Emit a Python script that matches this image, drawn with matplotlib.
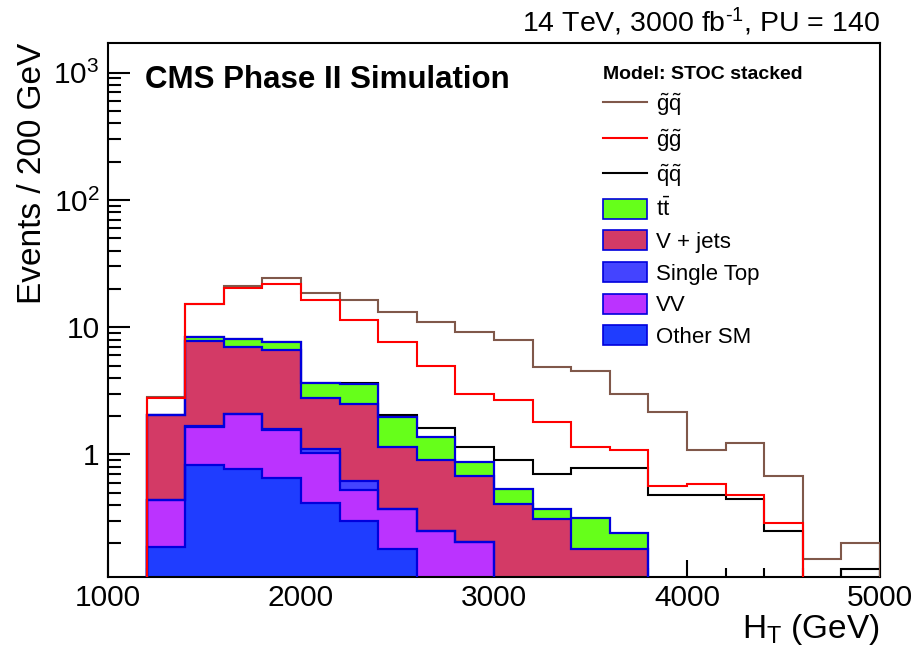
import numpy as np
import matplotlib
matplotlib.use("Agg")
import matplotlib.pyplot as plt
from matplotlib.patches import Patch
from matplotlib.lines import Line2D

plt.rcParams['font.family'] = ['Liberation Sans', 'DejaVu Sans']
plt.rcParams['mathtext.fontset'] = 'custom'
plt.rcParams['mathtext.rm'] = 'Liberation Sans'
plt.rcParams['mathtext.it'] = 'Liberation Sans:italic'
plt.rcParams['mathtext.bf'] = 'Liberation Sans:bold'

# H_T bin edges (GeV)
edges = np.arange(1200, 5001, 200)

# SM backgrounds, per process (stacked bottom -> top)
other_sm = [0.187, 0.834, 0.762, 0.659, 0.416, 0.30, 0.182, 0, 0, 0, 0, 0, 0, 0, 0, 0, 0, 0, 0]
vv = [0.249, 0.816, 1.318, 0.911, 0.614, 0.23, 0.188, 0.25, 0.205, 0, 0, 0, 0, 0, 0, 0, 0, 0, 0]
single_top = [0, 0.01, 0.01, 0.01, 0.08, 0.086, 0.005, 0, 0, 0, 0, 0, 0, 0, 0, 0, 0, 0, 0]
v_jets = [1.604, 6.19, 4.94, 5.05, 1.65, 1.864, 0.78, 0.65, 0.47, 0.406, 0.313, 0.182, 0.18, 0, 0, 0, 0, 0, 0]
ttbar = [0, 0.58, 1.01, 0.99, 0.90, 1.10, 0.82, 0.48, 0.19, 0.129, 0.058, 0.137, 0.063, 0, 0, 0, 0, 0, 0]

# signal curves as drawn (STOC model, stacked)
sig_gq = [2.84, 15.2, 21.0, 24.3, 18.7, 16.4, 13.1, 11.0, 9.2, 7.9, 4.9, 4.55, 2.97, 2.15, 1.08, 1.24, 0.675, 0.15, 0.203]
sig_gg = [2.76, 15.2, 20.5, 21.8, 16.4, 11.3, 7.7, 4.95, 2.97, 2.68, 1.8, 1.15, 1.08, 0.563, 0.584, 0.484, 0.29, 0, 0]
sig_qq = [2.04, 8.43, 8.04, 7.62, 3.66, 3.66, 2.04, 1.60, 1.15, 0.90, 0.70, 0.785, 0.785, 0.484, 0.484, 0.45, 0.25, 0, 0.126]

c_tt = '#66ff1a'
c_vj = '#d33a66'
c_st = '#4444ff'
c_vv = '#bb33ff'
c_oth = '#1f3dff'
c_edge = '#0000dd'
c_gq = '#80584a'
c_gg = '#ff0000'
c_qq = '#000000'

ymin, ymax = 0.109, 1710
tiny = 1e-4


def fix(v):
    v = np.asarray(v, dtype=float)
    return np.where(v > 0, v, tiny)


fig = plt.figure(figsize=(9.19, 6.53), dpi=100)
ax = fig.add_axes([0.1175, 0.1164, 0.8401, 0.8178])
ax.set_yscale('log')

# qq drawn under the stack, so it hides behind the stack outline
ax.stairs(fix(sig_qq), edges, baseline=tiny, color=c_qq, lw=1.5, zorder=1)

layers = [other_sm, vv, single_top, v_jets, ttbar]
cols = [c_oth, c_vv, c_st, c_vj, c_tt]
cum = np.cumsum(np.array(layers, dtype=float), axis=0)
for i in range(len(layers) - 1, -1, -1):
    ax.stairs(fix(cum[i]), edges, baseline=tiny, fill=True, color=cols[i], zorder=2)
    ax.stairs(fix(cum[i]), edges, baseline=tiny, color=c_edge, lw=1.6, zorder=3)

ax.stairs(fix(sig_gq), edges, baseline=tiny, color=c_gq, lw=1.5, zorder=4)
ax.stairs(fix(sig_gg), edges, baseline=tiny, color=c_gg, lw=1.5, zorder=5)

ax.set_xlim(1000, 5000)
ax.set_ylim(ymin, ymax)
ax.set_xticks([1000, 2000, 3000, 4000, 5000])
ax.set_xticks(np.arange(1000, 5001, 200), minor=True)
ax.set_yticks([1, 10, 100, 1000])
ax.set_yticklabels(['1', '10', '$10^{2}$', '$10^{3}$'])
ax.tick_params(axis='both', which='both', direction='in', top=False, right=False, labelsize=21.5, width=1.5)
ax.tick_params(axis='x', which='major', length=12, pad=5)
ax.tick_params(axis='x', which='minor', length=6.5)
ax.tick_params(axis='y', which='major', length=16, pad=6)
ax.tick_params(axis='y', which='minor', length=9.5)
for s in ax.spines.values():
    s.set_linewidth(1.5)

ax.set_xlabel('H$_{\\mathrm{T}}$ (GeV)', fontsize=24, loc='right', labelpad=0)
ax.set_ylabel('Events / 200 GeV', fontsize=24, loc='top')
ax.yaxis.set_label_coords(-0.078, 1.0)

ax.text(0.048, 0.93, 'CMS Phase II Simulation', transform=ax.transAxes, fontsize=22.5,
        fontweight='bold', va='center', ha='left')
fig.text(0.9576, 0.966, '14 TeV, 3000 fb$^{\\text{-1}}$, PU = 140', fontsize=20.5, ha='right', va='center')

handles = [Line2D([], [], color=c_gq, lw=1.5),
           Line2D([], [], color=c_gg, lw=1.5),
           Line2D([], [], color=c_qq, lw=1.5),
           Patch(facecolor=c_tt, edgecolor=c_edge, lw=1.2),
           Patch(facecolor=c_vj, edgecolor=c_edge, lw=1.2),
           Patch(facecolor=c_st, edgecolor=c_edge, lw=1.2),
           Patch(facecolor=c_vv, edgecolor=c_edge, lw=1.2),
           Patch(facecolor=c_oth, edgecolor=c_edge, lw=1.2)]
labels = [r'$\tilde{\mathrm{g}}\tilde{\mathrm{q}}$',
          r'$\tilde{\mathrm{g}}\tilde{\mathrm{g}}$',
          r'$\tilde{\mathrm{q}}\tilde{\mathrm{q}}$',
          r'$\mathrm{t}\bar{\mathrm{t}}$',
          'V + jets', 'Single Top', 'VV', 'Other SM']
leg = ax.legend(handles, labels, title='Model: STOC stacked',
                title_fontproperties={'weight': 'bold', 'size': 14}, fontsize=16,
                loc='upper left', bbox_to_anchor=(0.641, 0.957), frameon=False,
                handlelength=2.0, handleheight=1.0, labelspacing=0.41,
                handletextpad=0.4, alignment='left', borderaxespad=0, borderpad=0)

fig.savefig('out.png', dpi=100)
